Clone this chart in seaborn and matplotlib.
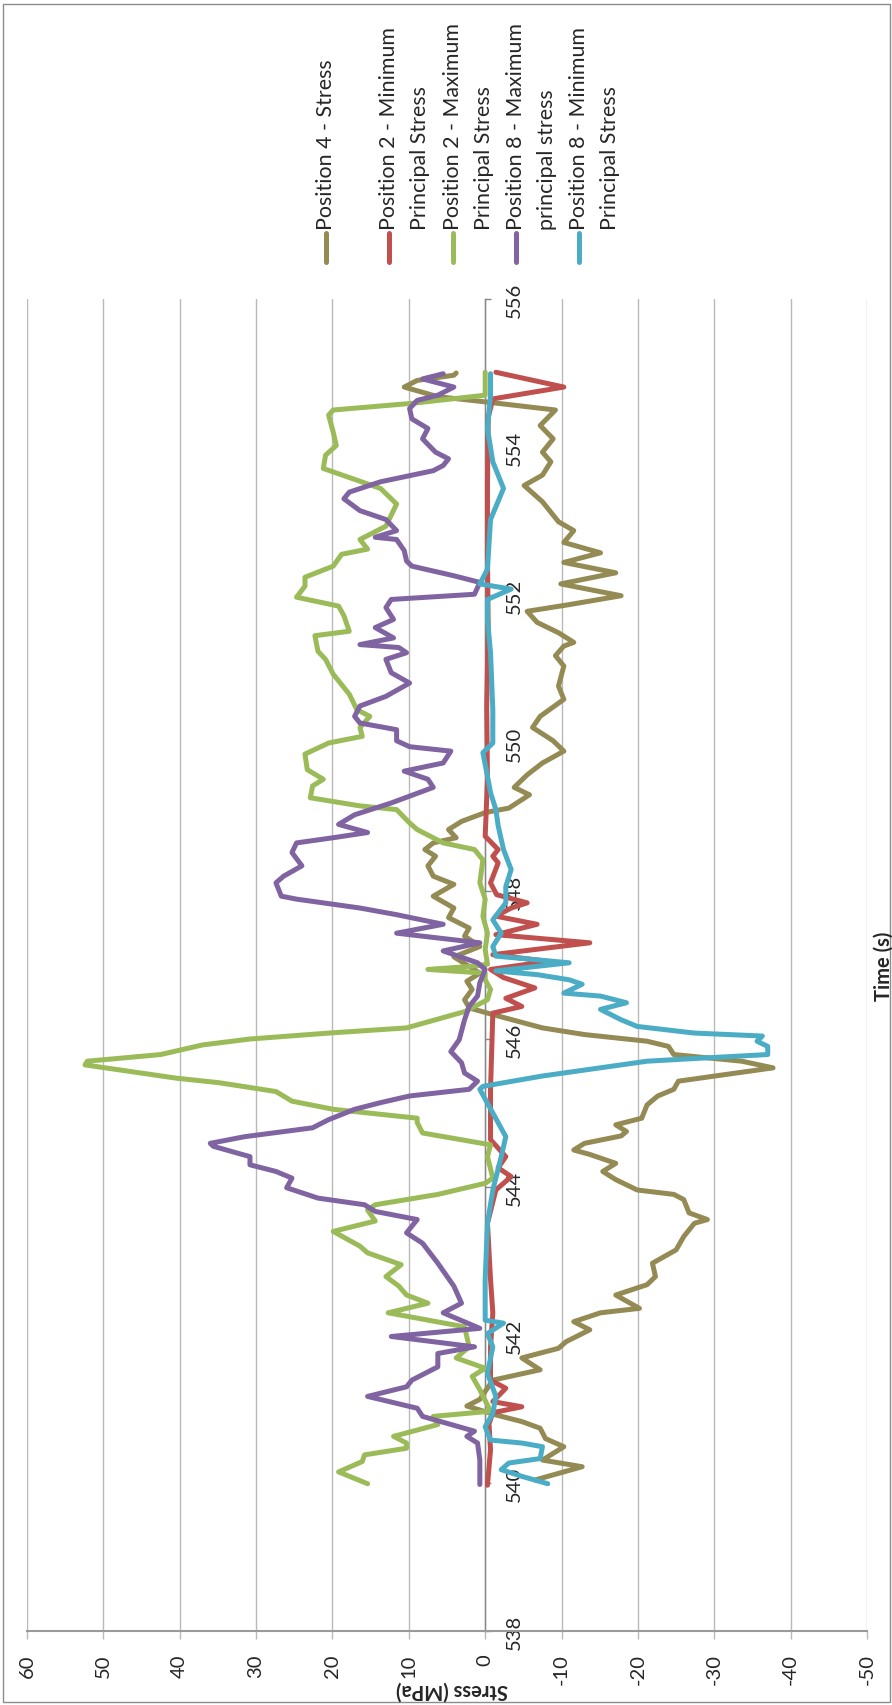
import numpy as np
import pandas as pd
import matplotlib
matplotlib.use("Agg")
import matplotlib.pyplot as plt
from matplotlib.lines import Line2D
from matplotlib.patches import Rectangle
import seaborn as sns

# ---- stress histories (time in s, stress in MPa) ----
pos4_time = [540.04, 540.22, 540.31, 540.49, 540.60, 540.74, 540.83, 540.92, 541.04, 541.13,
             541.39, 541.53, 541.69, 541.82, 541.91, 542.07, 542.18, 542.30, 542.36, 542.54,
             542.68, 542.79, 542.97, 543.15, 543.33, 543.51, 543.56, 543.65, 543.83, 543.90,
             543.96, 544.10, 544.21, 544.32, 544.44, 544.50, 544.59, 544.69, 544.75, 544.84,
             544.93, 545.11, 545.23, 545.32, 545.43, 545.50, 545.61, 545.70, 545.79, 545.90,
             545.97, 546.06, 546.15, 546.33, 546.42, 546.53, 546.67, 546.78, 546.89, 547.11,
             547.25, 547.39, 547.50, 547.64, 547.77, 547.93, 548.09, 548.20, 548.34, 548.47,
             548.56, 548.65, 548.72, 548.83, 548.94, 549.06, 549.12, 549.30, 549.40, 549.57,
             549.73, 549.89, 550.03, 550.21, 550.36, 550.59, 550.77, 551.04, 551.18, 551.31,
             551.36, 551.49, 551.63, 551.78, 551.87, 551.99, 552.15, 552.30, 552.44, 552.57,
             552.71, 552.87, 552.99, 553.26, 553.48, 553.62, 553.80, 553.93, 554.11, 554.29,
             554.50, 554.61, 554.68, 554.81, 554.90, 554.97, 555.00]
pos4_stress = [-6.5, -12.7, -7.5, -10.3, -7.9, -7.2, -4.8, -1.4, 2.4, 0.7,
               -1.0, -7.2, -4.8, -9.6, -10.6, -13.7, -11.6, -15.1, -20.2, -17.1,
               -21.2, -22.3, -21.9, -25.0, -26.0, -27.4, -29.1, -26.7, -26.0, -24.7,
               -19.9, -17.1, -15.4, -17.1, -13.7, -11.6, -13.0, -17.8, -18.5, -17.1,
               -20.5, -21.2, -22.6, -24.7, -25.3, -30.1, -37.7, -33.6, -24.7, -24.0,
               -21.2, -13.0, -7.5, -1.0, 2.1, 2.7, 1.7, 2.4, 0.7, 4.1,
               0.7, 2.7, 2.1, 4.8, 4.1, 6.8, 4.1, 6.8, 7.5, 6.5,
               7.9, 6.8, 3.8, 4.8, 3.1, 0.0, -3.1, -5.8, -3.8, -5.5,
               -7.5, -10.3, -8.9, -6.2, -7.2, -10.3, -9.6, -10.3, -9.2, -10.3,
               -11.6, -9.6, -6.8, -5.5, -11.0, -17.8, -9.9, -17.1, -10.3, -15.1,
               -10.3, -11.6, -9.6, -7.5, -5.1, -7.5, -8.6, -7.5, -8.9, -7.2,
               -9.2, 0.0, 6.2, 10.6, 8.9, 4.1, 3.8]

pos2_min_time = [539.97, 540.45, 540.80, 540.95, 541.03, 541.10, 541.28, 541.39, 541.84, 542.30,
                 542.75, 543.51, 543.96, 544.14, 544.26, 544.41, 544.64, 545.32, 546.35, 546.44,
                 546.55, 546.69, 546.83, 546.94, 547.05, 547.14, 547.30, 547.41, 547.55, 547.66,
                 547.77, 547.84, 547.95, 548.11, 548.38, 548.47, 548.56, 548.74, 549.50, 550.50,
                 551.50, 552.50, 553.50, 554.40, 554.65, 554.81, 555.01]
pos2_min_stress = [-0.3, -0.7, -0.5, -1.0, -4.8, -1.0, -2.7, -0.7, -0.7, -1.0,
                   -0.7, -0.3, -1.4, -3.4, -1.7, -2.7, -0.7, -0.7, -1.0, -4.8,
                   -2.7, -6.5, -2.4, -0.7, -8.2, -1.0, -13.7, -1.4, -6.8, -1.4,
                   -3.4, -5.5, -1.5, -0.7, -1.7, -1.0, -1.7, 0.0, -0.3, -0.2,
                   -0.4, -0.3, -0.3, -0.4, -1.0, -10.3, -1.4]

pos2_max_time = [539.99, 540.15, 540.29, 540.38, 540.47, 540.54, 540.63, 540.79, 540.90, 540.97,
                 541.26, 541.44, 541.55, 541.69, 541.84, 542.11, 542.30, 542.43, 542.54, 542.66,
                 542.79, 542.95, 543.11, 543.20, 543.40, 543.54, 543.69, 543.76, 543.90, 544.05,
                 544.12, 544.41, 544.57, 544.73, 544.87, 544.93, 545.05, 545.16, 545.29, 545.41,
                 545.47, 545.65, 545.70, 545.79, 545.92, 546.00, 546.08, 546.15, 546.37, 546.53,
                 546.67, 546.80, 546.89, 546.94, 546.98, 547.01, 547.21, 547.43, 547.66, 547.89,
                 548.11, 548.42, 548.56, 548.65, 548.83, 548.92, 549.10, 549.15, 549.26, 549.42,
                 549.51, 549.64, 549.85, 550.00, 550.09, 550.21, 550.36, 550.45, 550.66, 550.93,
                 551.13, 551.24, 551.45, 551.51, 551.72, 551.85, 551.97, 552.12, 552.24, 552.39,
                 552.55, 552.62, 552.75, 552.93, 553.23, 553.44, 553.71, 553.89, 554.02, 554.20,
                 554.43, 554.50, 554.59, 554.70, 555.01]
pos2_max_stress = [15.4, 19.2, 16.1, 15.8, 10.3, 10.3, 12.0, 6.2, 6.8, -0.7,
                   0.7, 1.7, 0.0, 3.8, 2.1, 2.7, 12.7, 7.5, 10.3, 11.3,
                   13.0, 11.0, 15.4, 16.4, 19.9, 14.4, 15.4, 14.4, 6.2, 0.0,
                   -1.0, -0.3, -0.7, 8.2, 8.9, 8.9, 19.9, 25.3, 27.4, 34.9,
                   40.4, 52.4, 52.1, 42.5, 37.0, 30.8, 20.5, 10.3, 2.7, -0.3,
                   -0.7, 0.0, 0.0, 7.5, 2.1, -0.3, 0.0, -0.3, 0.3, 0.0,
                   0.7, 0.3, 1.4, 5.5, 8.9, 9.9, 11.6, 16.4, 22.9, 22.6,
                   21.2, 23.3, 23.6, 20.5, 16.1, 16.4, 15.1, 16.8, 17.8, 19.9,
                   20.9, 21.9, 22.3, 17.8, 18.5, 19.2, 24.7, 23.6, 23.6, 19.9,
                   18.8, 15.4, 16.4, 13.0, 11.6, 13.7, 21.2, 20.9, 19.5, 19.9,
                   20.5, 19.9, 9.6, 0.0, 0.0]

pos8_max_time = [539.98, 540.31, 540.54, 540.63, 540.70, 540.90, 541.01, 541.17, 541.30, 541.39,
                 541.57, 541.75, 541.84, 541.98, 542.09, 542.30, 542.43, 542.66, 542.97, 543.24,
                 543.38, 543.56, 543.67, 543.76, 543.85, 543.99, 544.12, 544.21, 544.30, 544.41,
                 544.55, 544.59, 544.68, 544.80, 544.91, 545.05, 545.14, 545.23, 545.32, 545.43,
                 545.54, 545.68, 545.83, 545.99, 546.26, 546.44, 546.58, 546.76, 546.94, 547.03,
                 547.19, 547.30, 547.43, 547.55, 547.68, 547.77, 547.89, 547.93, 548.11, 548.20,
                 548.34, 548.52, 548.65, 548.72, 548.79, 548.90, 549.03, 549.19, 549.40, 549.51,
                 549.62, 549.73, 549.89, 549.95, 550.03, 550.18, 550.27, 550.36, 550.50, 550.63,
                 550.81, 550.95, 551.13, 551.22, 551.29, 551.33, 551.42, 551.56, 551.67, 551.83,
                 551.94, 552.01, 552.17, 552.26, 552.39, 552.46, 552.60, 552.75, 552.78, 552.87,
                 553.02, 553.14, 553.30, 553.39, 553.53, 553.68, 553.75, 553.84, 553.93, 554.11,
                 554.25, 554.38, 554.52, 554.63, 554.70, 554.81, 554.92, 554.99]
pos8_max_stress = [0.7, 0.7, 1.0, 2.4, 1.4, 8.2, 8.9, 15.4, 10.3, 9.6,
                   6.2, 6.2, 1.4, 12.3, 0.7, 5.5, 3.1, 4.1, 6.2, 8.2,
                   10.3, 8.9, 14.4, 15.8, 21.9, 26.0, 25.3, 27.4, 30.8, 30.8,
                   35.6, 36.0, 31.5, 22.6, 20.5, 17.1, 13.7, 9.9, 2.1, 1.0,
                   2.7, 3.1, 4.5, 3.4, 2.7, 2.1, 1.0, 0.7, 0.0, 1.0,
                   5.5, 0.7, 11.6, 5.5, 11.6, 16.4, 24.7, 26.7, 27.4, 26.4,
                   24.0, 25.3, 24.7, 19.9, 15.4, 19.2, 17.1, 12.3, 6.8, 7.5,
                   10.6, 5.5, 4.5, 9.9, 11.6, 11.6, 16.4, 17.1, 16.4, 13.0,
                   9.9, 12.3, 13.0, 10.3, 11.3, 16.4, 12.0, 14.4, 12.0, 13.0,
                   12.3, 1.4, 0.7, 4.1, 9.6, 10.3, 10.6, 11.6, 14.4, 11.6,
                   13.0, 16.4, 18.5, 17.8, 13.7, 6.8, 5.5, 4.8, 6.5, 8.2,
                   7.5, 9.6, 9.9, 8.9, 6.2, 4.1, 8.2, 5.5]

pos8_min_time = [539.99, 540.09, 540.18, 540.27, 540.33, 540.49, 540.54, 540.58, 540.76, 540.94,
                 541.17, 541.48, 541.84, 542.02, 542.16, 542.20, 542.75, 543.51, 543.96, 544.41,
                 544.68, 545.00, 545.32, 545.36, 545.50, 545.70, 545.74, 545.79, 545.90, 545.97,
                 546.04, 546.08, 546.17, 546.26, 546.40, 546.49, 546.58, 546.62, 546.74, 546.80,
                 546.87, 546.92, 547.03, 547.12, 547.25, 547.43, 547.61, 547.84, 548.06, 548.29,
                 548.56, 548.88, 549.10, 549.33, 549.55, 549.87, 550.00, 550.45, 551.22, 551.67,
                 551.94, 552.08, 552.15, 552.35, 553.02, 553.44, 553.80, 554.25, 554.70, 554.99]
pos8_min_stress = [-8.2, -4.8, -2.1, -3.1, -7.2, -7.5, -4.8, -0.7, 0.0, -1.0,
                   -1.4, -0.3, -1.0, -0.3, -2.4, 0.0, 0.0, -0.3, -1.0, -2.1,
                   -2.7, -1.0, 0.7, 0.3, -7.5, -21.2, -28.1, -37.0, -37.0, -35.6,
                   -36.3, -27.4, -19.9, -17.8, -15.1, -18.5, -15.1, -10.3, -12.7, -11.0,
                   -6.8, -1.4, -11.0, -1.4, -1.0, -2.1, -1.0, -2.7, -2.7, -3.4,
                   -2.4, -1.7, -1.4, -0.7, -0.3, 0.3, -1.0, -1.0, -0.7, -0.3,
                   -0.3, -3.4, 0.7, -0.3, -0.7, -2.4, -1.0, -0.3, -0.7, -0.7]

series_names = ["Position 4 - Stress",
                "Position 2 - Minimum Principal Stress",
                "Position 2 - Maximum Principal Stress",
                "Position 8 - Maximum principal stress",
                "Position 8 - Minimum Principal Stress"]
legend_labels = [["Position 4 - Stress"],
                 ["Position 2 - Minimum", "Principal Stress"],
                 ["Position 2 - Maximum", "Principal Stress"],
                 ["Position 8 - Maximum", "principal stress"],
                 ["Position 8 - Minimum", "Principal Stress"]]
series_colors = ["#948A54", "#C0504D", "#9BBB59", "#8064A2", "#4BACC6"]

stress_ticks = [60, 50, 40, 30, 20, 10, 0, -10, -20, -30, -40, -50]
time_ticks = [538, 540, 542, 544, 546, 548, 550, 552, 554, 556]

# ---- long-form table ----
frames = []
for name, t, s in zip(series_names,
                      [pos4_time, pos2_min_time, pos2_max_time, pos8_max_time, pos8_min_time],
                      [pos4_stress, pos2_min_stress, pos2_max_stress, pos8_max_stress, pos8_min_stress]):
    frames.append(pd.DataFrame({"series": name, "time": t, "stress": s}))
df = pd.concat(frames, ignore_index=True)

sns.set_style("white")
plt.rcParams["font.family"] = ["Lato", "DejaVu Sans"]

W, H = 892, 1706
FS = 14.5
LEG_FS = 15.4
LW = 3.6


def fx(px):
    return px / W


def fy(py):
    return 1 - py / H


fig = plt.figure(figsize=(W / 100, H / 100), dpi=100)
fig.patch.set_facecolor("white")

# chart outline
fig.add_artist(Rectangle((fx(2.5), fy(1703)), fx(887), 1698 / H, transform=fig.transFigure,
                         fill=False, edgecolor="#8c8c8c", lw=1))

ax = fig.add_axes([fx(27), fy(1632), fx(867 - 27), (1632 - 300) / H])

# the chart is laid out sideways: stress runs right-to-left, time runs upward
sns.lineplot(data=df, x="stress", y="time", hue="series", hue_order=series_names,
             palette=series_colors, orient="y", estimator=None, sort=False,
             lw=LW, legend=False, ax=ax)
for ln in ax.get_lines():
    ln.set_solid_joinstyle("round")
    ln.set_solid_capstyle("round")

ax.set_xlim(60, -50)
ax.set_ylim(538, 556)
ax.set_xlabel("")
ax.set_ylabel("")

ax.grid(axis="x", color="#b9b9b9", lw=1)
ax.grid(axis="y", visible=False)
ax.set_axisbelow(True)

ax.spines["top"].set_visible(False)
ax.spines["left"].set_visible(False)
ax.spines["bottom"].set_color("#9a9a9a")
ax.spines["bottom"].set_linewidth(1.5)
ax.spines["right"].set_position(("data", 0))
ax.spines["right"].set_color("#868686")
ax.spines["right"].set_linewidth(1)
ax.spines["right"].set_zorder(1.5)

ax.set_xticks(stress_ticks)
ax.set_xticklabels([str(v) for v in stress_ticks], rotation=90)
ax.tick_params(axis="x", direction="out", length=6, width=1, color="#b9b9b9",
               pad=10, labelsize=FS, bottom=True)

ax.yaxis.tick_right()
ax.set_yticks(time_ticks)
ax.set_yticklabels([str(v) for v in time_ticks])
ax.tick_params(axis="y", direction="out", length=4, width=1, color="#868686",
               pad=11, labelsize=FS, labelrotation=90, right=True, left=False)
for lab in ax.get_yticklabels():
    lab.set_va("center")

# axis titles
fig.text(fx(452), fy(1690), "Stress (MPa)", rotation=180, ha="center", va="center",
         fontsize=FS, fontweight="bold")
fig.text(fx(884), fy(966), "Time (s)", rotation=90, ha="center", va="center",
         fontsize=FS, fontweight="bold")

# legend across the top, entries reading upward
entry_x = [326, 389, 452.5, 515.7, 579.4]
for x0, lines, col in zip(entry_x, legend_labels, series_colors):
    fig.add_artist(Line2D([fx(x0), fx(x0)], [fy(263), fy(234)], transform=fig.transFigure,
                          color=col, lw=LW, solid_capstyle="round"))
    for k, line in enumerate(lines):
        fig.text(fx(x0 + 31 * k), fy(230), line, rotation=90, rotation_mode="anchor",
                 ha="left", va="center", fontsize=LEG_FS)

fig.savefig("out.png", dpi=100, facecolor="white")
